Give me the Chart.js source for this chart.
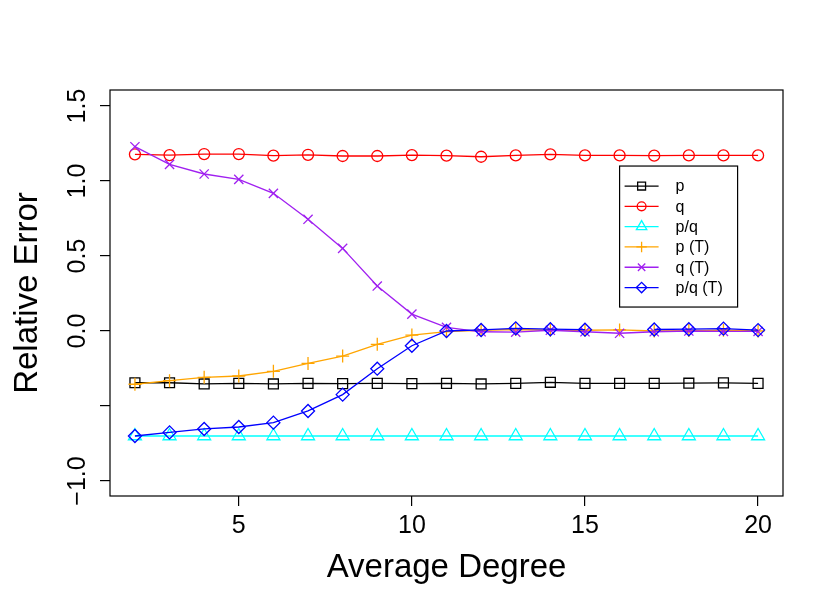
<!DOCTYPE html>
<html>
<head>
<meta charset="utf-8">
<script src="https://cdn.jsdelivr.net/npm/chart.js@4"></script>
<style>
  html, body { margin: 0; padding: 0; background: #fff; }
  #wrap { width: 830px; height: 609px; }
</style>
</head>
<body>
<div id="wrap"><canvas id="chart"></canvas></div>
<script>
const degrees = [2, 3, 4, 5, 6, 7, 8, 9, 10, 11, 12, 13, 14, 15, 16, 17, 18, 19, 20];

const errP = [-0.345, -0.345, -0.353, -0.349, -0.353, -0.349, -0.351, -0.349, -0.351, -0.349,
  -0.353, -0.349, -0.342, -0.349, -0.349, -0.349, -0.348, -0.346, -0.349];
const errQ = [1.178, 1.173, 1.18, 1.18, 1.169, 1.175, 1.167, 1.167, 1.173, 1.169,
  1.162, 1.171, 1.178, 1.171, 1.171, 1.169, 1.171, 1.171, 1.171];
const errPQ = [-0.7, -0.7, -0.7, -0.7, -0.7, -0.7, -0.7, -0.7, -0.7, -0.7,
  -0.7, -0.7, -0.7, -0.7, -0.7, -0.7, -0.7, -0.7, -0.7];
const errPT = [-0.355, -0.331, -0.309, -0.3, -0.269, -0.216, -0.167, -0.089, -0.027, -0.004,
  0.005, 0.01, 0.005, 0.005, 0.007, 0.0, 0.003, 0.005, 0.0];
const errQT = [1.229, 1.111, 1.047, 1.011, 0.918, 0.745, 0.551, 0.3, 0.113, 0.025,
  -0.005, -0.008, 0.005, -0.005, -0.015, -0.005, 0.0, -0.003, -0.003];
const errPQT = [-0.7, -0.676, -0.653, -0.64, -0.611, -0.533, -0.424, -0.251, -0.098, 0.0,
  0.007, 0.018, 0.012, 0.009, null, 0.01, 0.012, 0.016, 0.006];

const xTicks = [5, 10, 15, 20];
const yTicks = [-1.0, -0.5, 0.0, 0.5, 1.0, 1.5];
const yTickLabels = ["\u22121.0", "", "0.0", "0.5", "1.0", "1.5"];

const FONT = "'Liberation Sans', Arial, Helvetica, sans-serif";

function series(label, values, color, style, radius, order) {
  return {
    label: label,
    data: degrees.map((d, i) => ({ x: d, y: values[i] })),
    borderColor: color,
    backgroundColor: color,
    pointBorderColor: color,
    pointBackgroundColor: "rgba(0,0,0,0)",
    pointStyle: style,
    pointRadius: radius,
    pointHoverRadius: radius,
    pointBorderWidth: 1.3,
    borderWidth: 1.3,
    tension: 0,
    spanGaps: false,
    order: order,
  };
}

// box round the plot region, like R's box()
const boxPlugin = {
  id: "box",
  afterDraw(chart) {
    const a = chart.chartArea;
    const ctx = chart.ctx;
    ctx.save();
    ctx.strokeStyle = "#000";
    ctx.lineWidth = 1.2;
    ctx.strokeRect(a.left, a.top, a.right - a.left, a.bottom - a.top);
    ctx.restore();
  },
};

// legend drawn inside the plot, anchored at data coords (16, 1.1)
const legendPlugin = {
  id: "rlegend",
  afterDraw(chart) {
    const ctx = chart.ctx;
    const x0 = chart.scales.x.getPixelForValue(16);
    const y0 = chart.scales.y.getPixelForValue(1.1);
    const w = 118, h = 141, row = 20.3;
    ctx.save();
    ctx.fillStyle = "#fff";
    ctx.fillRect(x0, y0, w, h);
    ctx.strokeStyle = "#000";
    ctx.lineWidth = 1.2;
    ctx.strokeRect(x0, y0, w, h);
    ctx.font = "16px " + FONT;
    ctx.textBaseline = "middle";
    ctx.textAlign = "left";
    chart.data.datasets.forEach((ds, i) => {
      const cy = y0 + 20 + i * row;
      ctx.strokeStyle = ds.borderColor;
      ctx.lineWidth = 1.3;
      ctx.beginPath();
      ctx.moveTo(x0 + 5, cy);
      ctx.lineTo(x0 + 39, cy);
      ctx.stroke();
      ctx.fillStyle = "rgba(0,0,0,0)";
      Chart.helpers.drawPoint(ctx, {
        pointStyle: ds.pointStyle,
        radius: ds.pointRadius * 0.8,
        borderWidth: 1.3,
        rotation: 0,
      }, x0 + 22, cy);
      ctx.fillStyle = "#000";
      ctx.fillText(ds.label, x0 + 56, cy + 1);
    });
    ctx.restore();
  },
};

new Chart(document.getElementById("chart"), {
  type: "line",
  data: {
    datasets: [
      series("p", errP, "#000000", "rect", 7, 6),
      series("q", errQ, "#FF0000", "circle", 5.5, 5),
      series("p/q", errPQ, "#00FFFF", "triangle", 7.5, 4),
      series("p (T)", errPT, "#FFA500", "cross", 6.5, 3),
      series("q (T)", errQT, "#A020F0", "crossRot", 6.5, 2),
      series("p/q (T)", errPQT, "#0000FF", "rectRot", 6.5, 1),
    ],
  },
  options: {
    responsive: true,
    maintainAspectRatio: false,
    animation: false,
    events: [],
    layout: { padding: { top: 90, right: 47, left: 0, bottom: 0 } },
    plugins: {
      legend: { display: false },
      tooltip: { enabled: false },
    },
    scales: {
      x: {
        type: "linear",
        min: 1.28,
        max: 20.72,
        afterBuildTicks: (s) => { s.ticks = xTicks.map((v) => ({ value: v })); },
        afterFit: (s) => { s.height = 113; },
        grid: { drawOnChartArea: false, drawTicks: true, tickLength: 10, color: "#000", lineWidth: 1.2 },
        border: { display: false },
        ticks: {
          color: "#000",
          font: { family: FONT, size: 25 },
          padding: 5,
          maxRotation: 0,
          autoSkip: false,
          callback: (v) => String(v),
        },
        title: {
          display: true,
          text: "Average Degree",
          color: "#000",
          font: { family: FONT, size: 33 },
          padding: { top: 0, bottom: 21 },
        },
      },
      y: {
        type: "linear",
        min: -1.1,
        max: 1.607,
        afterBuildTicks: (s) => { s.ticks = yTicks.map((v) => ({ value: v })); },
        afterFit: (s) => { s.width = 110; },
        grid: { drawOnChartArea: false, drawTicks: true, tickLength: 10, color: "#000", lineWidth: 1.2 },
        border: { display: false },
        ticks: {
          color: "#000",
          font: { family: FONT, size: 25 },
          padding: -3,
          minRotation: 90,
          maxRotation: 90,
          crossAlign: "center",
          autoSkip: false,
          callback: (v) => {
            const i = yTicks.indexOf(v);
            return i >= 0 ? yTickLabels[i] : "";
          },
        },
        title: {
          display: true,
          text: "Relative Error",
          color: "#000",
          font: { family: FONT, size: 33 },
          padding: { top: 8, bottom: 0 },
        },
      },
    },
  },
  plugins: [boxPlugin, legendPlugin],
});
</script>
</body>
</html>
